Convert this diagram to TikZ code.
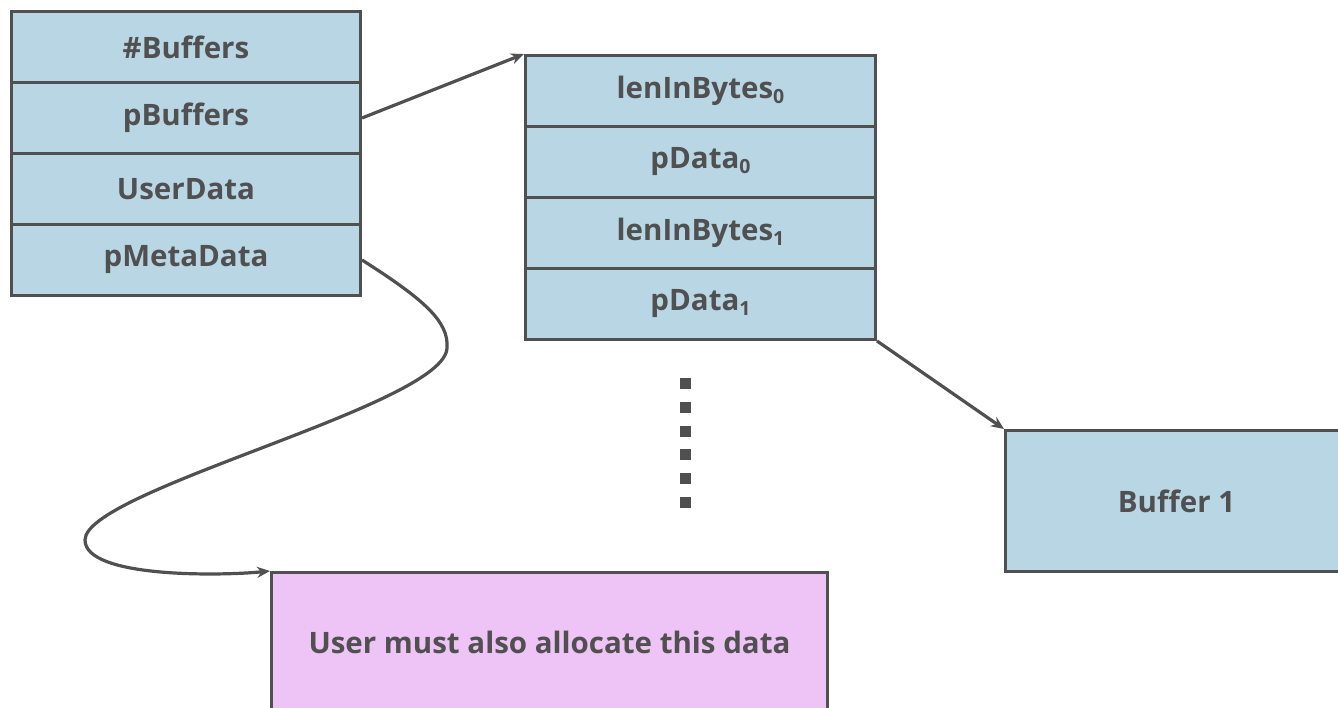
\documentclass[tikz,border=0pt]{standalone}
\usepackage{fontspec}
\setmainfont{Open Sans}
\usetikzlibrary{arrows.meta}
\definecolor{cellblue}{HTML}{B8D6E4}
\definecolor{cellpink}{HTML}{EEC3F5}
\definecolor{ink}{HTML}{505050}
\newcommand{\sbs}[1]{\raisebox{-0.3ex}{\fontsize{19.5}{19.5}\selectfont #1}}
\begin{document}
\begin{tikzpicture}[x=1pt,y=-1pt,
  cell/.style={draw=ink, line width=3pt, fill=cellblue, anchor=north west,
    minimum width=349pt, minimum height=71pt, inner sep=0pt, text=ink,
    font=\fontsize{29.5}{34}\selectfont\bfseries},
  bigbox/.style={draw=ink, line width=3pt, anchor=north west, inner sep=0pt, text=ink,
    font=\fontsize{29.5}{34}\selectfont\bfseries},
  conn/.style={draw=ink, line width=3.2pt, -{Stealth[length=13pt,width=11pt]}},
  dotsq/.style={fill=ink, minimum size=11pt, inner sep=0pt}]
\path[use as bounding box, clip] (0,0) rectangle (1338,708);
\fill[white] (0,0) rectangle (1338,708);
% left table
\node[cell] (nb) at (10,10) {\#Buffers};
\node[cell] (pb) at (10,81) {pBuffers};
\node[cell] (ud) at (10,152) {UserData};
\node[cell] (pm) at (10,223) {pMetaData};
% middle table
\node[cell, minimum width=350pt] (l0) at (524,54) {lenInBytes\sbs{0}};
\node[cell, minimum width=350pt] (d0) at (524,125) {pData\sbs{0}};
\node[cell, minimum width=350pt] (l1) at (524,196) {lenInBytes\sbs{1}};
\node[cell, minimum width=350pt] (d1) at (524,267) {pData\sbs{1}};
% buffer 1
\node[bigbox, fill=cellblue, minimum width=342pt, minimum height=141pt] (buf) at (1004,429) {Buffer 1};
% pink box
\node[bigbox, fill=cellpink, minimum width=556pt, minimum height=140pt] (ua) at (270,571) {User must also allocate this data};
% dots
\foreach \i [count=\k] in {383,407,431,454,478,502}
  \node[dotsq] (dot\k) at (685,\i) {};
% connectors
\draw[conn] (pb.east) -- (l0.north west);
\draw[conn] (d1.south east) -- (buf.north west);
\coordinate (c1) at (447,348);
\coordinate (c2) at (85,540);
\draw[conn] (pm.east) .. controls (425,300) and (449,322) .. (c1)
  .. controls (445,405) and (85,490) .. (c2)
  .. controls (85,578) and (220,576) .. (ua.north west);
\end{tikzpicture}
\end{document}
